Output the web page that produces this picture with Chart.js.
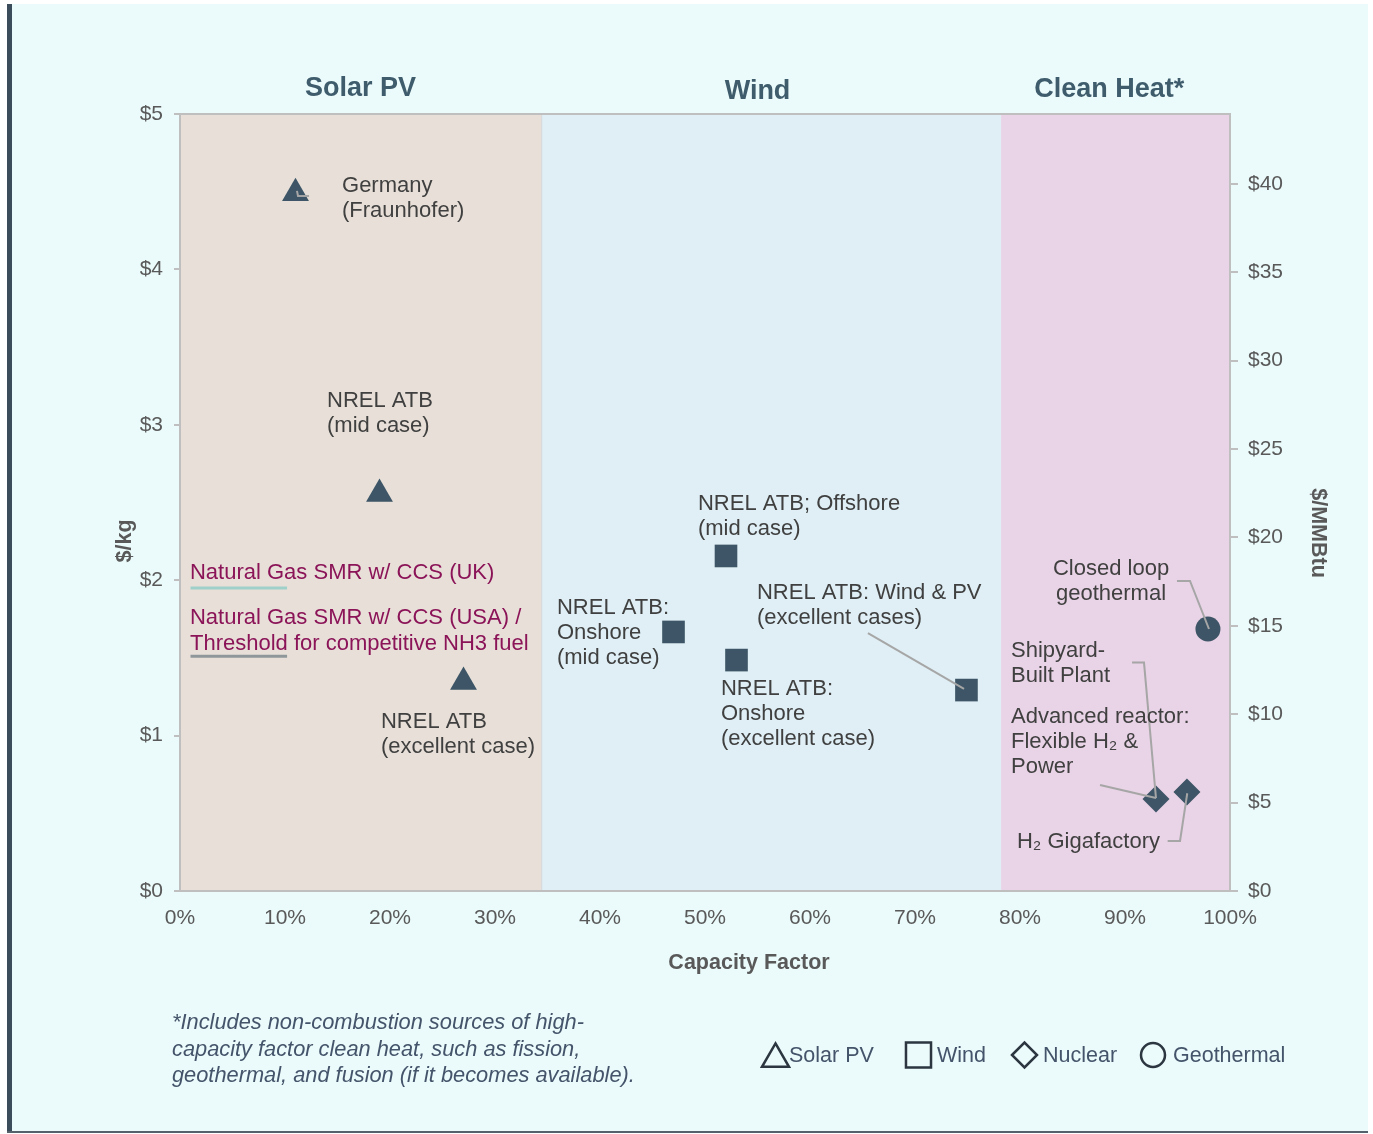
<!DOCTYPE html>
<html>
<head>
<meta charset="utf-8">
<script src="https://cdn.jsdelivr.net/npm/chart.js@4.4.0/dist/chart.umd.min.js"></script>
<style>
  html, body { margin: 0; padding: 0; background: #fff; }
  #wrap { position: relative; width: 1373px; height: 1134px; }
  #chart { display: block; width: 1373px; height: 1134px; }
  #note { position: absolute; left: 172px; top: 1009px; font: italic 21.8px 'Liberation Sans', Arial, sans-serif; line-height: 26.5px; color: #44546a; }
</style>
</head>
<body>
<div id="wrap">
  <canvas id="chart" width="1373" height="1134"></canvas>
  <div id="note">*Includes non-combustion sources of high-<br>capacity factor clean heat, such as fission,<br>geothermal, and fusion (if it becomes available).</div>
</div>
<script>
// data
const solarX = [11, 19, 27];
const solarY = [4.49, 2.555, 1.345];
const windX = [52, 47, 53, 74.9];
const windY = [2.156, 1.667, 1.486, 1.293];
const nuclearX = [92.95, 95.9];
const nuclearY = [0.592, 0.637];
const geoX = [97.9];
const geoY = [1.686];

const gasLineX = [1, 10.2];
const gasUK = 1.95;
const gasUSA = 1.51;

const bandEdges = [0, 34.4, 78.2, 100];
const bandNames = ['Solar PV', 'Wind', 'Clean Heat*'];
const bandTitleX = [17.2, 55.0, 88.5];
const bandTitleY = [89, 92, 90];

const xTickStep = 10;     // 0% .. 100%
const yTickStep = 1;      // $0 .. $5
const y2TickStep = 5;     // $0 .. $40
const kgToMMBtu = 8.79;   // $1/kg H2 = $8.79/MMBtu

// callouts: x in %, y in $/kg (center of first line)
const labels = [
  { x: 15.43, y: 4.537, lines: ['Germany', '(Fraunhofer)'] },
  { x: 14.0, y: 3.153, lines: ['NREL ATB', '(mid case)'] },
  { x: 19.14, y: 1.0875, lines: ['NREL ATB', '(excellent case)'] },
  { x: 49.33, y: 2.49, lines: ['NREL ATB; Offshore', '(mid case)'] },
  { x: 35.9, y: 1.821, lines: ['NREL ATB:', 'Onshore', '(mid case)'] },
  { x: 54.95, y: 1.918, lines: ['NREL ATB: Wind & PV', '(excellent cases)'] },
  { x: 51.52, y: 1.30, lines: ['NREL ATB:', 'Onshore', '(excellent case)'] },
  { x: 88.67, y: 2.072, lines: ['Closed loop', 'geothermal'], align: 'center' },
  { x: 79.14, y: 1.544, lines: ['Shipyard-', 'Built Plant'] },
  { x: 79.14, y: 1.12, lines: ['Advanced reactor:', 'Flexible H\u2082 &', 'Power'] },
  { x: 79.71, y: 0.3153, lines: ['H\u2082 Gigafactory'] },
  { x: 0.95, y: 2.046, lines: ['Natural Gas SMR w/ CCS (UK)'], color: '#8b1458' },
  { x: 0.95, y: 1.757, lines: ['Natural Gas SMR w/ CCS (USA) /', 'Threshold for competitive NH3 fuel'], color: '#8b1458', lh: 26 }
];

const leaders = [
  [[11.14, 4.505], [11.24, 4.472], [12.29, 4.472]],
  [[65.52, 1.66], [74.67, 1.30]],
  [[94.95, 1.995], [96.19, 1.995], [98.0, 1.686]],
  [[90.67, 1.47], [91.81, 1.47], [92.95, 0.598]],
  [[87.62, 0.682], [92.95, 0.598]],
  [[94.06, 0.322], [95.24, 0.322], [95.93, 0.629]]
];

const legendNames = ['Solar PV', 'Wind', 'Nuclear', 'Geothermal'];
const legendStyles = ['triangle', 'rect', 'rectRot', 'circle'];

const FONT = "'Liberation Sans', Arial, sans-serif";
const MARK = '#3d5566';

function pts(xs, ys) {
  return xs.map((x, i) => ({ x: x, y: ys[i] }));
}

const decor = {
  id: 'decor',
  beforeDraw(chart) {
    const c = chart.ctx, a = chart.chartArea, xs = chart.scales.x;
    c.save();
    c.fillStyle = '#ffffff';
    c.fillRect(0, 0, chart.width, chart.height);
    c.fillStyle = '#ebfafa';
    c.fillRect(7, 4, 1361, 1129);
    c.fillStyle = '#3b4d5a';
    c.fillRect(7, 4, 5, 1129);
    c.fillStyle = '#56626b';
    c.fillRect(7, 1131, 1361, 2);

    // background bands
    const bandColors = ['#e8e0d8', '#dfeff5', '#e9d3e6'];
    for (let i = 0; i < bandNames.length; i++) {
      const x0 = xs.getPixelForValue(bandEdges[i]);
      const x1 = xs.getPixelForValue(bandEdges[i + 1]);
      c.fillStyle = bandColors[i];
      c.fillRect(x0, a.top, x1 - x0, a.bottom - a.top);
    }
    // band divider
    c.strokeStyle = '#d6d6d6';
    c.lineWidth = 1;
    c.beginPath();
    c.moveTo(xs.getPixelForValue(bandEdges[1]) + 0.5, a.top);
    c.lineTo(xs.getPixelForValue(bandEdges[1]) + 0.5, a.bottom);
    c.stroke();
    // top frame line
    c.strokeStyle = '#bfbfbf';
    c.lineWidth = 2;
    c.beginPath();
    c.moveTo(a.left, a.top);
    c.lineTo(a.right, a.top);
    c.stroke();

    // band titles
    c.fillStyle = '#3e5c6c';
    c.font = 'bold 27px ' + FONT;
    c.textAlign = 'center';
    c.textBaseline = 'middle';
    bandNames.forEach((n, i) => c.fillText(n, xs.getPixelForValue(bandTitleX[i]), bandTitleY[i]));

    // axis titles
    c.fillStyle = '#595959';
    c.font = 'bold 21.5px ' + FONT;
    c.fillText('Capacity Factor', (a.left + a.right) / 2 + 44, 963);
    c.save();
    c.translate(125, 541);
    c.rotate(-Math.PI / 2);
    c.fillText('$/kg', 0, 0);
    c.restore();
    c.save();
    c.translate(1318, 533);
    c.rotate(Math.PI / 2);
    c.fillText('$/MMBtu', 0, 0);
    c.restore();
    c.restore();
  },
  afterDatasetsDraw(chart) {
    const c = chart.ctx, xs = chart.scales.x, ys = chart.scales.y;
    c.save();
    // leader lines
    c.strokeStyle = '#a6a6a6';
    c.lineWidth = 2;
    leaders.forEach(l => {
      c.beginPath();
      l.forEach((p, i) => {
        const px = xs.getPixelForValue(p[0]), py = ys.getPixelForValue(p[1]);
        if (i === 0) c.moveTo(px, py); else c.lineTo(px, py);
      });
      c.stroke();
    });
    // callout texts
    c.font = '22px ' + FONT;
    c.textBaseline = 'middle';
    labels.forEach(l => {
      c.fillStyle = l.color || '#404040';
      c.textAlign = l.align || 'left';
      const px = xs.getPixelForValue(l.x), py = ys.getPixelForValue(l.y);
      const lh = l.lh || 25;
      l.lines.forEach((t, i) => c.fillText(t, px, py + i * lh));
    });

    // legend (outlined markers)
    const legX = [775.5, 918.5, 1024.5, 1153];
    const legTextX = [789, 937, 1043, 1173];
    const legR = [15.6, 17.7, 12.5, 12];
    const legDy = [4, 0, 0, 0];
    c.fillStyle = 'rgba(0,0,0,0)';
    c.strokeStyle = '#2b3640';
    c.lineWidth = 2.5;
    legendNames.forEach((n, i) => {
      Chart.helpers.drawPoint(c, {
        pointStyle: legendStyles[i], radius: legR[i], rotation: 0, borderWidth: 2.5
      }, legX[i], 1055 + legDy[i]);
    });
    c.fillStyle = '#44546a';
    c.font = '21.5px ' + FONT;
    c.textAlign = 'left';
    legendNames.forEach((n, i) => c.fillText(n, legTextX[i], 1056));
    c.restore();
  }
};

const tickFont = { family: FONT, size: 21 };

new Chart(document.getElementById('chart'), {
  type: 'scatter',
  data: {
    datasets: [
      { label: 'Solar PV', data: pts(solarX, solarY), pointStyle: 'triangle', pointRadius: 15.5, backgroundColor: MARK, borderColor: MARK, borderWidth: 0 },
      { label: 'Wind', data: pts(windX, windY), pointStyle: 'rect', pointRadius: 16, backgroundColor: MARK, borderColor: MARK, borderWidth: 0 },
      { label: 'Nuclear', data: pts(nuclearX, nuclearY), pointStyle: 'rectRot', pointRadius: 13.5, backgroundColor: MARK, borderColor: MARK, borderWidth: 0 },
      { label: 'Geothermal', data: pts(geoX, geoY), pointStyle: 'circle', pointRadius: 12.5, backgroundColor: MARK, borderColor: MARK, borderWidth: 0 },
      { type: 'line', label: 'UK', data: pts(gasLineX, [gasUK, gasUK]), borderColor: '#9fd0c9', borderWidth: 3, pointRadius: 0, showLine: true },
      { type: 'line', label: 'USA', data: pts(gasLineX, [gasUSA, gasUSA]), borderColor: '#8f979b', borderWidth: 3, pointRadius: 0, showLine: true }
    ]
  },
  options: {
    responsive: false,
    animation: false,
    events: [],
    layout: { padding: { top: 114, left: 0, right: 0, bottom: 0 } },
    plugins: { legend: { display: false }, tooltip: { enabled: false } },
    scales: {
      x: {
        type: 'linear', min: 0, max: 100,
        ticks: { stepSize: xTickStep, callback: v => v + '%', font: tickFont, color: '#595959', padding: 15, maxRotation: 0 },
        grid: { drawOnChartArea: false, drawTicks: false },
        border: { color: '#bfbfbf', width: 2 },
        afterFit: s => { s.height = 243; }
      },
      y: {
        position: 'left', min: 0, max: 5,
        ticks: { stepSize: yTickStep, callback: v => '$' + v, font: tickFont, color: '#595959', padding: 11 },
        grid: { drawOnChartArea: false, tickLength: 6, color: '#bfbfbf', lineWidth: 2 },
        border: { color: '#bfbfbf', width: 2 },
        afterFit: s => { s.width = 180; }
      },
      y2: {
        position: 'right', min: 0, max: 5 * kgToMMBtu,
        ticks: { stepSize: y2TickStep, includeBounds: false, callback: v => '$' + v, font: tickFont, color: '#595959', padding: 10 },
        grid: { drawOnChartArea: false, tickLength: 8, color: '#bfbfbf', lineWidth: 2 },
        border: { color: '#bfbfbf', width: 2 },
        afterFit: s => { s.width = 143; }
      }
    }
  },
  plugins: [decor]
});
</script>
</body>
</html>
